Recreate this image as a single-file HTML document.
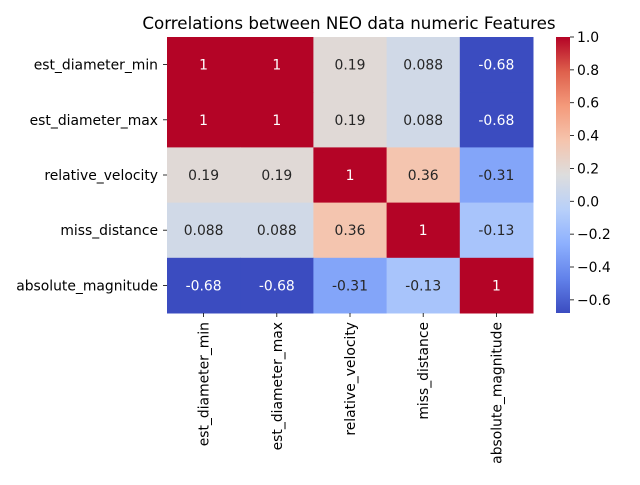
<!DOCTYPE html>
<html><head><meta charset="utf-8"><style>
body{margin:0;background:#fff}
svg text{font-family:"DejaVu Sans","Liberation Sans",sans-serif}
</style></head><body>
<svg id="chart" width="640" height="480" xmlns="http://www.w3.org/2000/svg">
<text x="349" y="29" font-size="16.7" text-anchor="middle" fill="#000">Correlations between NEO data numeric Features</text>
<defs><linearGradient id="cg" x1="0" y1="1" x2="0" y2="0"></linearGradient></defs>
<g id="cells"></g><g id="axes"></g><g id="cbar"></g>
</svg>
<script>
const labels=["est_diameter_min","est_diameter_max","relative_velocity","miss_distance","absolute_magnitude"];
const row0=[1,1,0.19,0.088,-0.68];
const row1=[1,1,0.19,0.088,-0.68];
const row2=[0.19,0.19,1,0.36,-0.31];
const row3=[0.088,0.088,0.36,1,-0.13];
const row4=[-0.68,-0.68,-0.31,-0.13,1];
const valueLabels=[["1","1","0.19","0.088","-0.68"],["1","1","0.19","0.088","-0.68"],["0.19","0.19","1","0.36","-0.31"],["0.088","0.088","0.36","1","-0.13"],["-0.68","-0.68","-0.31","-0.13","1"]];
const cbTicks=[1.0,0.8,0.6,0.4,0.2,0.0,-0.2,-0.4,-0.6];
const vmin=-0.68,vmax=1.0;
const matrix=[row0,row1,row2,row3,row4];
const ns="http://www.w3.org/2000/svg";
const L=167,T=37,W=366,H=276,n=labels.length,cw=W/n,ch=H/n;
const FS=13.9;
const stops=[[59,76,192],[98,130,234],[141,176,254],[184,208,249],[221,221,221],[245,196,173],[244,154,123],[222,96,76],[180,4,38]];
function cmap(v){let t=(v-vmin)/(vmax-vmin);t=Math.max(0,Math.min(1,t))*8;let i=Math.min(7,Math.floor(t)),f=t-i;
const a=stops[i],b=stops[i+1];return `rgb(${a.map((c,k)=>Math.round(c+(b[k]-c)*f)).join(',')})`;}
function lum(v){let t=(v-vmin)/(vmax-vmin);return t<0.2||t>0.75;}
function mk(tag,at,parent){const e=document.createElementNS(ns,tag);for(const k in at)e.setAttribute(k,at[k]);parent.appendChild(e);return e;}
const xs=j=>L+j*cw, ys=i=>T+i*ch;
const cells=document.getElementById('cells'),axes=document.getElementById('axes'),cb=document.getElementById('cbar');
matrix.forEach((row,i)=>row.forEach((v,j)=>{
 const r=mk('rect',{x:xs(j),y:ys(i),width:cw+0.5,height:ch+0.5,fill:cmap(v)},cells);
 
 
 const t=mk('text',{x:xs(j)+cw/2,y:ys(i)+ch/2+5,'font-size':FS,'text-anchor':'middle',fill:lum(v)?'#fff':'#262626'},cells);
 t.textContent=valueLabels[i][j];
 
 
}));
labels.forEach((lab,i)=>{
 const y=ys(i)+ch/2;
 mk('line',{x1:L-4,x2:L,y1:y,y2:y,stroke:'#000','stroke-width':0.8},axes);
 const t=mk('text',{x:L-9,y:y+5,'font-size':FS,'text-anchor':'end'},axes);
 t.textContent=lab;
 
 
 const x=xs(i)+cw/2;
 mk('line',{x1:x,x2:x,y1:T+H,y2:T+H+4,stroke:'#000','stroke-width':0.8},axes);
 const t2=mk('text',{x:0,y:0,'font-size':FS,'text-anchor':'end',transform:`translate(${x+5},${T+H+9}) rotate(-90)`},axes);
 t2.textContent=lab;
 
 
});
const g=document.getElementById('cg');
stops.forEach((s,k)=>mk('stop',{offset:k/8,'stop-color':`rgb(${s.join(',')})`},g));
const CX=556,CW=14;
const cbr=mk('rect',{x:CX,y:T,width:CW,height:H,fill:'url(#cg)'},cb);


const cy=v=>T+(vmax-v)/(vmax-vmin)*H;
cbTicks.forEach(v=>{
 const y=cy(v);
 mk('line',{x1:CX+CW,x2:CX+CW+4,y1:y,y2:y,stroke:'#000','stroke-width':0.8},cb);
 const t=mk('text',{x:CX+CW+7,y:y+5,'font-size':FS},cb);
 t.textContent=(v<0?'\u2212':'')+Math.abs(v).toFixed(1);
 
 
});
</script>
</body></html>
